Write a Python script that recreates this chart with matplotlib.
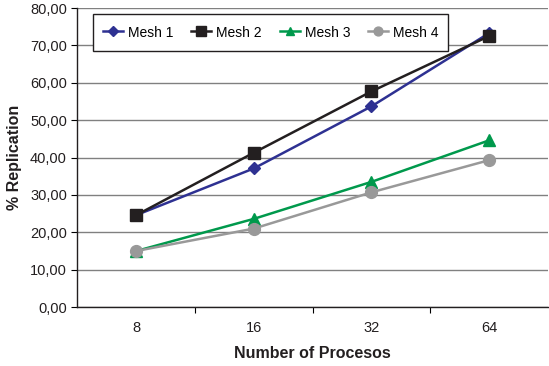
import matplotlib
matplotlib.use("Agg")
import matplotlib.pyplot as plt

plt.rcParams['font.family'] = ['Liberation Sans', 'DejaVu Sans']

procesos = ["8", "16", "32", "64"]
mesh1 = [24.6, 37.1, 53.7, 73.3]
mesh2 = [24.6, 41.3, 57.7, 72.5]
mesh3 = [15.0, 23.6, 33.5, 44.6]
mesh4 = [15.0, 21.0, 30.7, 39.3]

series = [
    ("Mesh 1", mesh1, "#2e3192", "D", 6.5),
    ("Mesh 2", mesh2, "#231f20", "s", 9),
    ("Mesh 3", mesh3, "#00994c", "^", 8.5),
    ("Mesh 4", mesh4, "#999999", "o", 8.5),
]

fig = plt.figure(figsize=(5.49, 3.66), dpi=100)
ax = fig.add_axes([0.141, 0.161, 0.857, 0.817])

xs = list(range(len(procesos)))
for name, vals, col, mk, ms in series:
    ax.plot(xs, vals, color=col, marker=mk, markersize=ms, linewidth=1.8,
            label=name, markeredgecolor=col, markerfacecolor=col)

ax.set_xlim(-0.5, len(procesos) - 0.5)
ax.set_ylim(0, 80)
ax.set_yticks(range(0, 81, 10))
ax.set_yticklabels([f"{v},00" for v in range(0, 81, 10)], fontsize=10.5, color="#231f20")
ax.grid(axis="y", color="#808080", linewidth=1)
ax.set_axisbelow(True)

# category labels centred, ticks between categories
ax.set_xticks([x + 0.5 for x in xs[:-1]])
ax.set_xticklabels([])
ax.set_xticks(xs, minor=True)
ax.set_xticklabels(procesos, minor=True, fontsize=10.5, color="#231f20")
ax.tick_params(axis="x", which="minor", length=0, pad=10)
ax.tick_params(axis="x", which="major", length=4, direction="out")
ax.tick_params(axis="y", length=4, direction="out")

for s in ["top", "right"]:
    ax.spines[s].set_visible(False)
for s in ["left", "bottom"]:
    ax.spines[s].set_color("#231f20")
    ax.spines[s].set_linewidth(1)

ax.set_xlabel("Number of Procesos", fontsize=11.5, fontweight="bold", color="#231f20", labelpad=8)
ax.set_ylabel("% Replication", fontsize=11.5, fontweight="bold", color="#231f20", labelpad=6)

leg = ax.legend(loc="upper left", bbox_to_anchor=(0.018, 1.003), ncol=4, fontsize=10,
                frameon=True, fancybox=False, edgecolor="#231f20", framealpha=1,
                handlelength=1.45, handleheight=1.6, handletextpad=0.35,
                columnspacing=1.3, borderpad=0.7, markerscale=0.75)
leg.get_frame().set_linewidth(1)

fig.savefig("out.png", dpi=100)
